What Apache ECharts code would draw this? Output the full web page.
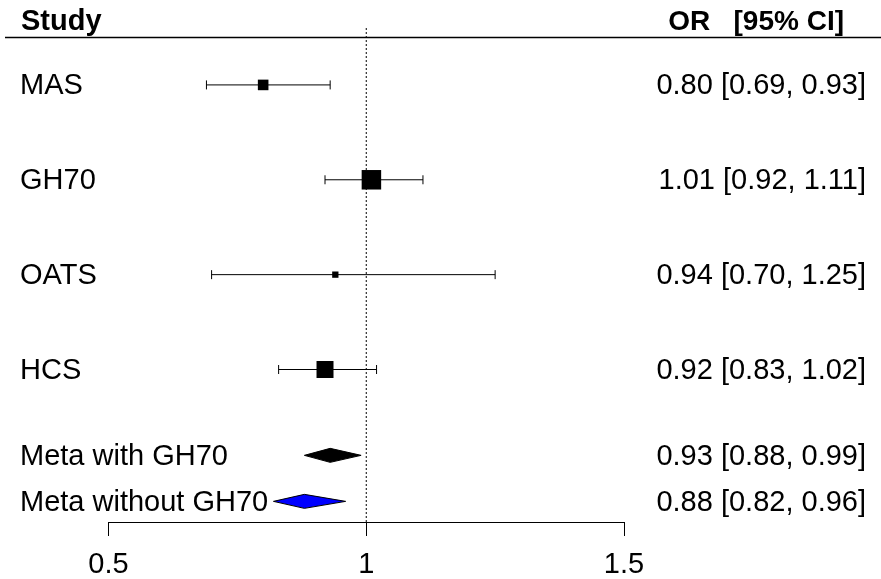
<!DOCTYPE html>
<html>
<head>
<meta charset="utf-8">
<script src="https://cdn.jsdelivr.net/npm/echarts@6/dist/echarts.min.js"></script>
<style>html,body{margin:0;padding:0;background:#fff}#c{width:881px;height:579px}</style>
</head>
<body>
<div id="c"></div>
<script>
// ---- data ----
var studies = ['MAS', 'GH70', 'OATS', 'HCS'];
var studyOR = [0.80, 1.01, 0.94, 0.92];
var studyLo = [0.69, 0.92, 0.70, 0.83];
var studyHi = [0.93, 1.11, 1.25, 1.02];

var metaNames = ['Meta with GH70', 'Meta without GH70'];
var metaOR = [0.93, 0.88];
var metaLo = [0.88, 0.82];
var metaHi = [0.99, 0.96];

var xTicks = [0.5, 1, 1.5];
var headerLeft = 'Study';
var headerRight = 'OR   [95% CI]';

// ---- layout (row positions on the y scale) ----
var studyRows = [10, 8, 6, 4];
var metaRows = [2.19, 1.22];
var yMin = 0.785, yMax = 11.2, headerRow = 11.0;
var FONT = '"Liberation Sans", Arial, sans-serif';
var FS = 29;
var minBox = 6.3, maxBox = 19.5;

function fmt(e, l, h) { return e.toFixed(2) + ' [' + l.toFixed(2) + ', ' + h.toFixed(2) + ']'; }

// weights from CI widths (inverse variance on log scale)
var weights = studyOR.map(function (e, i) {
  var se = (Math.log(studyHi[i]) - Math.log(studyLo[i])) / (2 * 1.96);
  return 1 / (se * se);
});
var wMin = Math.min.apply(null, weights), wMax = Math.max.apply(null, weights);
var boxSizes = weights.map(function (w) { return minBox + (w - wMin) / (wMax - wMin) * (maxBox - minBox); });

var studyData = studies.map(function (s, i) {
  return [studyOR[i], studyRows[i], studyLo[i], studyHi[i], boxSizes[i]];
});
var metaData = metaNames.map(function (s, i) {
  return [metaOR[i], metaRows[i], metaLo[i], metaHi[i], i];
});
var labelData = studies.concat(metaNames).map(function (s, i) {
  var isS = i < studies.length;
  var j = isS ? i : i - studies.length;
  return [isS ? studyOR[j] : metaOR[j], isS ? studyRows[j] : metaRows[j],
          s, isS ? fmt(studyOR[j], studyLo[j], studyHi[j]) : fmt(metaOR[j], metaLo[j], metaHi[j])];
});

var chart = echarts.init(document.getElementById('c'), null, { renderer: 'canvas' });
var gridLeft = 108.5, gridRight = 257, gridTop = 28, gridBottom = 56;

chart.setOption({
  animation: false,
  backgroundColor: '#fff',
  grid: { left: gridLeft, right: gridRight, top: gridTop, bottom: gridBottom },
  xAxis: {
    type: 'value', min: 0.5, max: 1.5, interval: 0.5,
    axisLine: { show: true, lineStyle: { color: '#000', width: 1 } },
    axisTick: { show: true, length: 14, lineStyle: { color: '#000', width: 1 } },
    axisLabel: { color: '#000', fontSize: FS, fontFamily: FONT, margin: 28,
      formatter: function (v) { return xTicks.indexOf(v) >= 0 ? String(v) : ''; } },
    splitLine: { show: false }
  },
  yAxis: { type: 'value', min: yMin, max: yMax, show: false, splitLine: { show: false } },
  series: [
    {
      type: 'line', data: [[1, yMin], [1, yMax]], symbol: 'none', silent: true,
      lineStyle: { color: '#000', width: 1, type: [2, 2] }
    },
    {
      type: 'custom', clip: false, data: studyData,
      renderItem: function (params, api) {
        var e = api.value(0), r = api.value(1), lo = api.value(2), hi = api.value(3), sz = api.value(4);
        var pE = api.coord([e, r]), pL = api.coord([lo, r]), pH = api.coord([hi, r]);
        var st = { stroke: '#000', lineWidth: 1 };
        return { type: 'group', children: [
          { type: 'line', shape: { x1: pL[0], y1: pL[1], x2: pH[0], y2: pH[1] }, style: st },
          { type: 'line', shape: { x1: pL[0], y1: pL[1] - 4.5, x2: pL[0], y2: pL[1] + 4.5 }, style: st },
          { type: 'line', shape: { x1: pH[0], y1: pH[1] - 4.5, x2: pH[0], y2: pH[1] + 4.5 }, style: st },
          { type: 'rect', shape: { x: pE[0] - sz / 2, y: pE[1] - sz / 2, width: sz, height: sz }, style: { fill: '#000' } }
        ]};
      }
    },
    {
      type: 'custom', clip: false, data: metaData,
      renderItem: function (params, api) {
        var e = api.value(0), r = api.value(1), lo = api.value(2), hi = api.value(3), k = api.value(4);
        var pE = api.coord([e, r]), pL = api.coord([lo, r]), pH = api.coord([hi, r]);
        var h = 7;
        return { type: 'polygon', shape: { points: [[pL[0], pL[1]], [pE[0], pE[1] - h], [pH[0], pH[1]], [pE[0], pE[1] + h]] },
          style: { fill: k === 0 ? '#000' : '#0000ff', stroke: '#000', lineWidth: 1 } };
      }
    },
    {
      type: 'custom', clip: false, data: labelData,
      renderItem: function (params, api) {
        var r = api.value(1);
        var p = api.coord([1, r]);
        var item = labelData[params.dataIndex];
        var y = p[1] + 1.5;
        return { type: 'group', children: [
          { type: 'text', style: { text: item[2], x: 20, y: y, align: 'left', verticalAlign: 'middle', fill: '#000', font: FS + 'px ' + FONT } },
          { type: 'text', style: { text: item[3], x: 866, y: y, align: 'right', verticalAlign: 'middle', fill: '#000', font: FS + 'px ' + FONT } }
        ]};
      }
    }
  ]
});

var hy = chart.convertToPixel({ gridIndex: 0 }, [1, headerRow])[1];
chart.setOption({
  graphic: [
    { type: 'line', shape: { x1: 5, y1: hy, x2: 881, y2: hy }, style: { stroke: '#000', lineWidth: 1.5 } },
    { type: 'text', style: { text: headerLeft, x: 21, y: hy - 15, align: 'left', verticalAlign: 'middle', fill: '#000', font: 'bold 29px ' + FONT } },
    { type: 'text', style: { text: headerRight, x: 844, y: hy - 15, align: 'right', verticalAlign: 'middle', fill: '#000', font: 'bold 28px ' + FONT } }
  ]
});
</script>
</body>
</html>
